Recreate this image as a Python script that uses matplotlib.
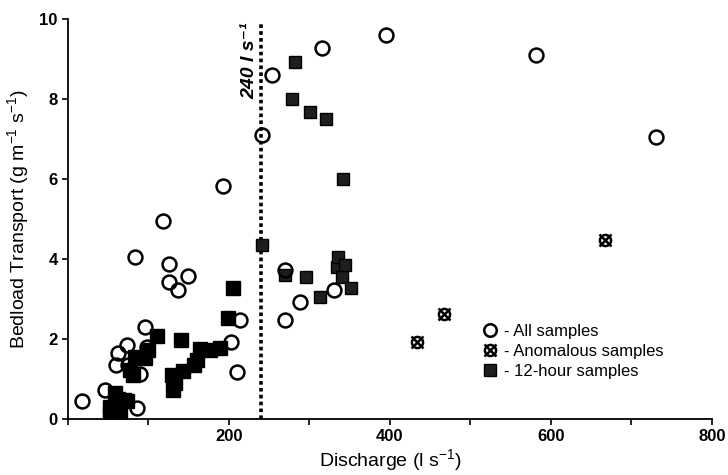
import numpy as np
import matplotlib.pyplot as plt
from matplotlib.lines import Line2D

plt.rcParams['font.family'] = ['Liberation Sans', 'DejaVu Sans']
plt.rcParams['mathtext.default'] = 'regular'

# all samples (open circles)
all_x = [18, 46, 60, 62, 73, 75, 86, 89, 96, 98, 83, 118, 126, 126, 137, 149,
         192, 203, 210, 214, 241, 253, 315, 395, 581, 731, 270, 288, 330, 270]
all_y = [0.46, 0.73, 1.35, 1.64, 1.85, 1.35, 0.27, 1.12, 2.29, 1.81, 4.04, 4.96,
         3.87, 3.43, 3.22, 3.57, 5.83, 1.93, 1.18, 2.48, 7.1, 8.6, 9.27, 9.6,
         9.1, 7.06, 2.48, 2.93, 3.22, 3.72]

# anomalous samples
anom_x = [434, 467, 667]
anom_y = [1.93, 2.62, 4.48]

# 12-hour samples (below 240 l/s)
h12_x = [52, 52, 58, 65, 69, 62, 73, 77, 83, 81, 96, 100, 110, 141, 129, 131,
         133, 143, 156, 160, 164, 176, 189, 199, 205]
h12_y = [0.14, 0.31, 0.64, 0.18, 0.48, 0.5, 0.45, 1.23, 1.56, 1.1, 1.52, 1.73,
         2.08, 1.98, 1.1, 0.73, 0.9, 1.2, 1.35, 1.48, 1.75, 1.73, 1.77, 2.52, 3.28]

# 12-hour samples (stippled, at and above 240 l/s)
h12b_x = [241, 278, 282, 301, 321, 342, 270, 296, 313, 334, 336, 340, 344, 352]
h12b_y = [4.35, 8.0, 8.93, 7.68, 7.5, 6.0, 3.6, 3.56, 3.06, 3.81, 4.06, 3.56, 3.85, 3.27]

threshold = 240

fig = plt.figure(figsize=(7.28, 4.75), dpi=100)
ax = fig.add_axes([0.0934, 0.118, 0.8846, 0.842])

ax.plot([threshold, threshold], [0, 9.9], color='black', lw=2.6,
        linestyle=(0, (1.0, 0.9)), zorder=1)

ax.plot(h12_x, h12_y, 's', ms=9.5, mfc='black', mec='black', zorder=2)
ax.plot(h12b_x, h12b_y, 's', ms=9, mfc='#1e1e1e', mec='black', zorder=2)
ax.plot(all_x, all_y, 'o', ms=10, mfc='none', mec='black', mew=1.8, zorder=3)
ax.plot(anom_x, anom_y, 'o', ms=8, mfc='none', mec='black', mew=1.8, zorder=3)
ax.plot(anom_x, anom_y, 'x', ms=9, mec='black', mew=1.8, zorder=3)

ax.text(threshold - 4, 9.92, '240 l s⁻¹', rotation=90, ha='right', va='top',
        fontsize=14, fontweight='bold', fontstyle='italic')

ax.set_xlim(0, 800)
ax.set_ylim(0, 10)
ax.set_xticks([0, 200, 400, 600, 800])
ax.set_xticklabels(['', '200', '400', '600', '800'])
ax.set_xticks([100, 300, 500, 700], minor=True)
ax.set_yticks([0, 2, 4, 6, 8, 10])
ax.tick_params(axis='both', which='both', direction='out', length=4, width=1.2,
               labelsize=12)
for lbl in ax.get_yticklabels() + ax.get_xticklabels():
    lbl.set_fontweight('bold')
for side in ['top', 'right']:
    ax.spines[side].set_visible(False)
for side in ['left', 'bottom']:
    ax.spines[side].set_linewidth(1.3)

ax.set_xlabel('Discharge (l s$^{-1}$)', fontsize=14, labelpad=2)
ax.set_ylabel('Bedload Transport (g m$^{-1}$ s$^{-1}$)', fontsize=14, labelpad=6)

handles = [
    Line2D([], [], marker='o', ls='none', ms=9, mfc='none', mec='black', mew=1.8),
    (Line2D([], [], marker='o', ls='none', ms=8, mfc='none', mec='black', mew=1.8),
     Line2D([], [], marker='x', ls='none', ms=9, mec='black', mew=1.8)),
    Line2D([], [], marker='s', ls='none', ms=8, mfc='#1e1e1e', mec='black'),
]
ax.legend(handles, ['- All samples', '- Anomalous samples', '- 12-hour samples'],
          loc='upper left', bbox_to_anchor=(0.63, 0.255), frameon=False,
          fontsize=12, handletextpad=0.2, labelspacing=0.3, handlelength=1.2,
          borderaxespad=0)

fig.savefig('out.png', dpi=100)
